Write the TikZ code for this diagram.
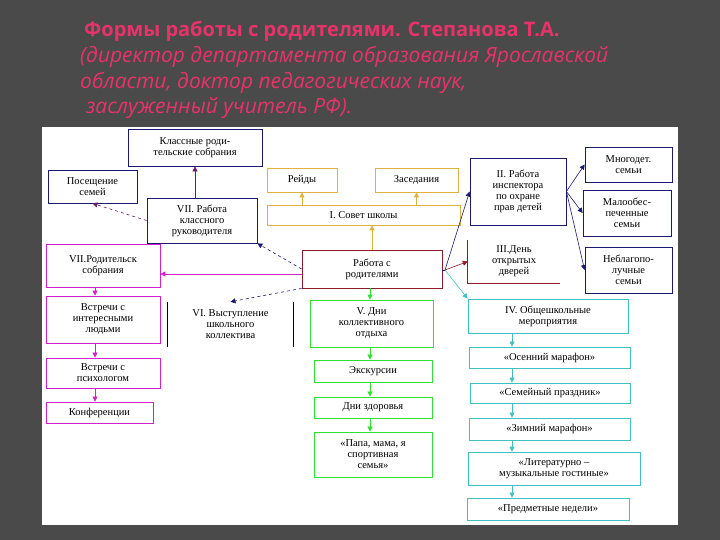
\documentclass[tikz,border=0pt]{standalone}
\usepackage{fontspec}
\setmainfont{Liberation Serif}
\newfontfamily\titlefont{Open Sans}
\usetikzlibrary{arrows.meta}
\definecolor{bg}{HTML}{4A4A4A}
\definecolor{tpink}{HTML}{E8336A}
\definecolor{navy}{HTML}{1A1A6E}
\definecolor{purp}{HTML}{6A1A6A}
\definecolor{mag}{HTML}{D020D0}
\definecolor{yel}{HTML}{E0B040}
\definecolor{dred}{HTML}{8B1A2A}
\definecolor{grn}{HTML}{30E030}
\definecolor{tea}{HTML}{40C0C0}
\begin{document}
\begin{tikzpicture}[x=1pt,y=-1pt,
  bx/.style={draw=#1,line width=0.8pt,fill=white,inner sep=0pt,align=center,font=\fontsize{10.5}{11}\selectfont},
  ar/.style={-{Triangle[width=5pt,length=5pt]},draw=#1,line width=0.6pt}]
\fill[bg] (0,0) rectangle (720,540);
\fill[white] (42,127) rectangle (678,525);
\tikzset{tt/.style={anchor=west,text=tpink,inner sep=0}}
\node[tt,font=\titlefont\bfseries\fontsize{20}{22}\selectfont] at (84,31) {Формы работы с родителями. Степанова Т.А.};
\node[tt,font=\titlefont\itshape\fontsize{21}{22}\selectfont] at (80,57) {(директор департамента образования Ярославской};
\node[tt,font=\titlefont\itshape\fontsize{21}{22}\selectfont] at (80,83) {области, доктор педагогических наук,};
\node[tt,font=\titlefont\itshape\fontsize{21}{22}\selectfont] at (86,108) {заслуженный учитель РФ).};
\def\B#1#2#3#4#5#6#7{\node[bx=#6,minimum width=#3-#2,minimum height=#5-#4] (#1) at ({(#2+#3)/2},{(#4+#5)/2}) {#7};}
\B{kls}{128}{262}{129}{166}{navy}{Классные роди-\\тельские собрания}
\B{pos}{48}{137}{170}{203}{navy}{Посещение\\семей}
\B{vii}{147}{257}{198}{243}{navy}{VII. Работа\\классного\\руководителя}
\B{rei}{267}{337}{168}{192}{yel}{Рейды}
\B{zas}{375}{458}{168}{192}{yel}{Заседания}
\B{sov}{267}{460}{205}{225}{yel}{I. Совет школы}
\B{rab}{302}{442}{250}{288}{dred}{Работа с\\родителями}
\B{ins}{470}{566}{158}{225}{navy}{II. Работа\\инспектора\\по охране\\прав детей}
\B{mno}{585}{672}{147}{182}{navy}{Многодет.\\семьи}
\B{mal}{583}{671}{190}{236}{navy}{Малообес-\\печенные\\семьи}
\B{neb}{585}{672}{247}{293}{navy}{Неблагопо-\\лучные\\семьи}
\node[inner sep=0,minimum width=92,minimum height=43,align=center,font=\fontsize{10.5}{11}\selectfont] (den) at (514,261.5) {III.День\\открытых\\дверей};
\draw[dred,line width=0.8pt] (den.north west)--(den.south west)--(den.south east);
\B{obs}{468}{628}{299}{333}{tea}{IV. Общешкольные\\мероприятия}
\B{ose}{469}{630}{347}{368}{tea}{«Осенний марафон»}
\B{sem}{470}{630}{383}{403}{tea}{«Семейный праздник»}
\B{zim}{469}{630}{418}{440}{tea}{«Зимний марафон»}
\B{lit}{468}{640}{452}{485}{tea}{«Литературно –\\музыкальные гостиные»}
\B{pre}{467}{629}{498}{520}{tea}{«Предметные недели»}
\B{rod}{46}{160}{244}{287}{mag}{VII.Родительск\\собрания}
\B{vst}{46}{160}{296}{343}{mag}{Встречи с\\интересными\\людьми}
\B{psi}{46}{160}{358}{388}{mag}{Встречи с\\психологом}
\B{kon}{46}{153}{402}{423}{mag}{Конференции}
\node[inner sep=0,minimum width=125,minimum height=45,align=center,font=\fontsize{10.5}{11}\selectfont] (vys) at (230.5,324.5) {VI. Выступление\\школьного\\коллектива};
\draw[black,line width=0.8pt] (vys.north west)--(vys.south west) (vys.north east)--(vys.south east);
\B{dni}{310}{433}{300}{347}{grn}{V. Дни\\коллективного\\отдыха}
\B{eks}{314}{432}{360}{382}{grn}{Экскурсии}
\B{zdo}{314}{432}{397}{418}{grn}{Дни здоровья}
\B{pap}{314}{432}{432}{477}{grn}{«Папа, мама, я\\спортивная\\семья»}
\draw[ar=mag] (rab.west|-0,274) -- (rod.east|-0,274);
\draw[ar=navy,dashed] (rab.west) -- (vii.south east);
\draw[ar=navy,dashed] (rab.south west) -- (vys.north);
\draw[ar=yel] (rab.north) -- (sov.south-|rab.north);
\draw[ar=yel] (sov.north-|rei.north) -- (rei.south);
\draw[ar=yel] (sov.north-|zas.north) -- (zas.south);
\draw[ar=purp] (vii.north-|kls.south) -- (kls.south);
\draw[ar=purp,dashed] (vii.west) -- (pos.south);
\coordinate (rr) at (445,270);
\draw[navy,line width=0.6pt] (rab.east|-rr) -- (rr);
\draw[ar=navy] (rr) -- (ins.west);
\draw[ar=dred] (rr) -- (den.west);
\draw[ar=tea] (rr) -- (obs.north west);
\draw[ar=navy] (ins.east) -- (mno.west);
\draw[ar=navy] (ins.east) -- (mal.west);
\draw[ar=navy] (ins.east) -- (neb.west);
\draw[ar=grn] (rab.south-|370,0) -- (dni.north-|370,0);
\draw[ar=grn] (dni.south-|370,0) -- (eks.north-|370,0);
\draw[ar=grn] (eks.south-|370,0) -- (zdo.north-|370,0);
\draw[ar=grn] (zdo.south-|370,0) -- (pap.north-|370,0);
\foreach \a/\b in {obs/ose,ose/sem,sem/zim,zim/lit,lit/pre}
  \draw[ar=tea] (\a.south-|512,0) -- (\b.north-|512,0);
\foreach \a/\b in {rod/vst,vst/psi,psi/kon}
  \draw[ar=mag] (\a.south-|95,0) -- (\b.north-|95,0);
\end{tikzpicture}
\end{document}
